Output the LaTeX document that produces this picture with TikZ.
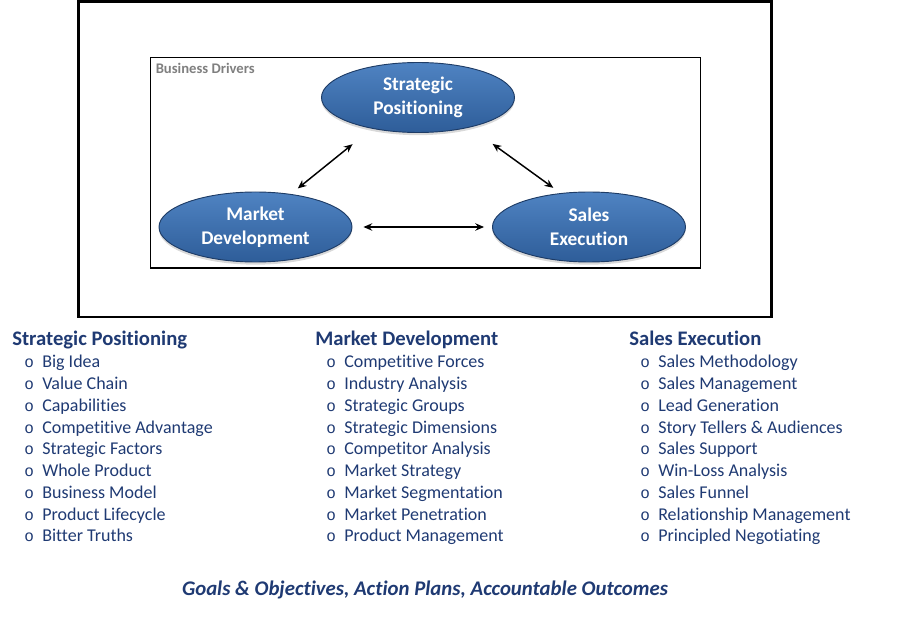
\documentclass[tikz,border=0pt]{standalone}
\usepackage{fontspec}
\setmainfont{Carlito}[Ligatures=NoCommon]
\newfontfamily\bulfont{Liberation Mono}
\usetikzlibrary{arrows.meta,shapes.geometric,shadows}
\definecolor{bdNavy}{HTML}{1F3A73}
\definecolor{bdBlue}{HTML}{3F71B0}
\definecolor{bdBlueTop}{HTML}{4F83C2}
\definecolor{bdBlueBot}{HTML}{2E5D99}
\definecolor{bdEdge}{HTML}{1E3C66}
\definecolor{bdGrey}{HTML}{7F7F7F}
\tikzset{
  driver/.style={
    ellipse, draw=bdEdge, line width=0.7pt,
    top color=bdBlueTop, middle color=bdBlue, bottom color=bdBlueBot,
    minimum width=144.75pt, minimum height=52.5pt, inner sep=0pt,
    align=center, text=white, font=\fontsize{14.5}{18.3}\selectfont\bfseries,
    drop shadow={shadow xshift=0pt, shadow yshift=-2pt, opacity=0.3}},
  link/.style={draw=black, line width=1.1pt,
               {Stealth[length=6.5pt,width=5.5pt]}-{Stealth[length=6.5pt,width=5.5pt]}},
  frame/.style={draw=black, line width=#1},
  frame/.default=2.2pt,
  colhead/.style={anchor=base west, inner sep=0pt, text=bdNavy,
                  font=\fontsize{15.5}{18}\selectfont\bfseries},
  entry/.style={anchor=base west, inner sep=0pt, text=bdNavy,
                font=\fontsize{13.5}{16}\selectfont},
}
\newcommand{\bul}{\llap{{\bulfont\fontsize{12}{12}\selectfont o}\hspace{6.3pt}}}

\begin{document}
\begin{tikzpicture}[x=0.75pt, y=-0.75pt]
\useasboundingbox (0,0) rectangle (900,620);

% ---- frames
\draw[frame] (78.5,1.5) rectangle (771.5,317);
\draw[frame=1.1pt] (150.5,57.5) rectangle (700.5,268);
\node[anchor=base west, inner sep=0pt, text=bdGrey,
      font=\fontsize{11}{12}\selectfont\bfseries] (BD) at (155.5,73.3) {Business Drivers};

% ---- the three drivers
\node[driver] (SP) at (418,97.5)  {Strategic\\Positioning};
\node[driver] (MD) at (255.5,227) {Market\\Development};
\node[driver] (SE) at (589,227)   {Sales\\Execution};

\draw[link, shorten <=6.6pt, shorten >=18.5pt] (MD.43) -- (SP.214);
\draw[link, shorten <=21pt, shorten >=6.7pt] (SP.330) -- (SE.130);
\draw[link, shorten <=8.25pt, shorten >=6pt] (MD.east) -- (SE.west);

% ---- strategic positioning
\node[colhead] (H1) at (12,345.7) {Strategic Positioning};
\node[entry] (SP1) at (42,367.7) {\bul Big Idea};
\node[entry] (SP2) at (42,389.5) {\bul Value Chain};
\node[entry] (SP3) at (42,411.2) {\bul Capabilities};
\node[entry] (SP4) at (42,433.0) {\bul Competitive Advantage};
\node[entry] (SP5) at (42,454.7) {\bul Strategic Factors};
\node[entry] (SP6) at (42,476.5) {\bul Whole Product};
\node[entry] (SP7) at (42,498.2) {\bul Business Model};
\node[entry] (SP8) at (42,520.0) {\bul Product Lifecycle};
\node[entry] (SP9) at (42,541.7) {\bul Bitter Truths};

% ---- market development
\node[colhead] (H2) at (315,345.7) {Market Development};
\node[entry] (MD1) at (344,367.7) {\bul Competitive Forces};
\node[entry] (MD2) at (344,389.5) {\bul Industry Analysis};
\node[entry] (MD3) at (344,411.2) {\bul Strategic Groups};
\node[entry] (MD4) at (344,433.0) {\bul Strategic Dimensions};
\node[entry] (MD5) at (344,454.7) {\bul Competitor Analysis};
\node[entry] (MD6) at (344,476.5) {\bul Market Strategy};
\node[entry] (MD7) at (344,498.2) {\bul Market Segmentation};
\node[entry] (MD8) at (344,520.0) {\bul Market Penetration};
\node[entry] (MD9) at (344,541.7) {\bul Product Management};

% ---- sales execution
\node[colhead] (H3) at (629,345.7) {Sales Execution};
\node[entry] (SE1) at (658,367.7) {\bul Sales Methodology};
\node[entry] (SE2) at (658,389.5) {\bul Sales Management};
\node[entry] (SE3) at (658,411.2) {\bul Lead Generation};
\node[entry] (SE4) at (658,433.0) {\bul Story Tellers \& Audiences};
\node[entry] (SE5) at (658,454.7) {\bul Sales Support};
\node[entry] (SE6) at (658,476.5) {\bul Win-Loss Analysis};
\node[entry] (SE7) at (658,498.2) {\bul Sales Funnel};
\node[entry] (SE8) at (658,520.0) {\bul Relationship Management};
\node[entry] (SE9) at (658,541.7) {\bul Principled Negotiating};

% ---- footer
\node[anchor=base, inner sep=0pt, text=bdNavy,
      font=\fontsize{15.6}{18}\selectfont\bfseries\itshape] (GOAL) at (425,595.7)
  {Goals \& Objectives, Action Plans, Accountable Outcomes};

\end{tikzpicture}
\end{document}
